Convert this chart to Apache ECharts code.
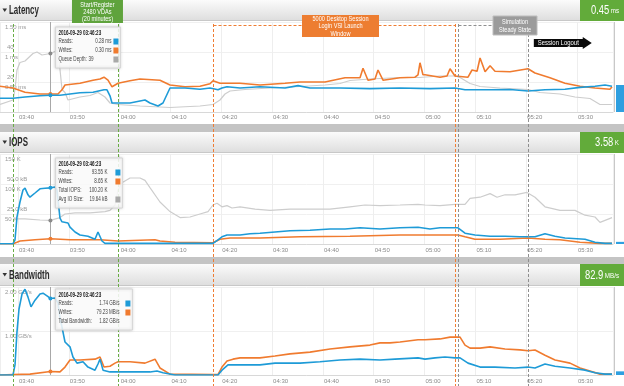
<!DOCTYPE html>
<html><head><meta charset="utf-8">
<script src="https://cdn.jsdelivr.net/npm/echarts@6/dist/echarts.min.js"></script>
<style>html,body{margin:0;padding:0;background:#fff}#c{width:624px;height:386px}</style>
</head><body><div id="c"></div>
<script>
// ---------- DATA (time = minutes after 03:00) ----------
const panelTitles = ['Latency', 'IOPS', 'Bandwidth'];
const badgeNumbers = ['0.45', '3.58', '82.9'];
const badgeUnits = ['ms', 'K', 'MB/s'];
const currentValues = [0.45, 3.58, 0.0829]; // latest value, in each panel's primary axis unit

const latMsTicks = [[0.5, '0.50 ms'], [1, '1 ms'], [1.5, '1.50 ms']];
const latQueueTicks = [[20, '20'], [40, '40']];
const iopsTicks = [[50, '50 K'], [100, '100 K'], [150, '150 K']];
const iopsSizeTicks = [[25, '25.0 kB'], [50, '50.0 kB']];
const bwTicks = [[1, '1.00 GB/s'], [2, '2.00 GB/s']];

const crosshairTime = 46.38;
const crosshairLabel = '2016-09-29 03:46:23';
const latTip = [['Reads:', '0.28 ms', 0.28], ['Writes:', '0.30 ms', 0.30], ['Queue Depth:', '39', 39]];
const iopsTip = [['Reads:', '93.55 K', 93.55], ['Writes:', '8.65 K', 8.65], ['Total IOPS:', '100.20 K', null], ['Avg IO Size:', '19.64 kB', 19.64]];
const bwTip = [['Reads:', '1.74 GB/s', 1.74], ['Writes:', '79.23 MB/s', 0.0792], ['Total Bandwidth:', '1.82 GB/s', null]];

const phaseTimes = [[39.02, 59.68], [78.37, 125.99], [126.58, 140.35]];
const phaseLabels = ['Start/Register\n2480 VDAs\n(20 minutes)', '5000 Desktop Session\nLogin VSI Launch\nWindow', 'Simulation\nSteady State'];
const phaseLabelCenters = [55.64, 103.46, 137.8];
const logoutSpan = [141.5, 152.9];
const logoutLabel = 'Session Logout';

const latReads = [[36.46,0.23],[39.02,0.23],[41.38,0.25],[44.33,0.27],[46.38,0.28],[48.26,0.28],[50.23,0.30],[52.20,0.32],[54.76,0.33],[56.92,0.37],[57.51,0.37],[58.10,0.27],[58.50,0.15],[59.68,0.15],[62.04,0.15],[64.99,0.20],[65.97,0.15],[67.55,0.10],[68.53,0.15],[69.91,0.40],[72.86,0.40],[75.81,0.38],[77.78,0.40],[79.35,0.37],[80.14,0.40],[81.13,0.42],[83.69,0.40],[87.62,0.42],[92.54,0.40],[95.10,0.44],[97.46,0.40],[103.36,0.40],[109.26,0.39],[115.17,0.40],[121.07,0.39],[125.99,0.40],[127.96,0.37],[132.89,0.37],[136.81,0.375],[140.35,0.35],[143.70,0.37],[147.63,0.38],[150.59,0.41],[153.54,0.43],[155.51,0.45],[156.89,0.43]];
const latWrites = [[36.46,0.43],[39.02,0.40],[41.38,0.33],[44.33,0.30],[46.38,0.30],[47.87,0.30],[48.66,0.37],[49.25,0.45],[52.20,0.48],[54.76,0.53],[56.14,0.55],[56.92,0.58],[57.71,0.53],[58.50,0.42],[59.68,0.48],[62.04,0.52],[64.01,0.55],[67.94,0.53],[69.91,0.45],[72.86,0.42],[75.81,0.43],[77.78,0.47],[78.37,0.52],[79.75,0.48],[83.69,0.48],[87.62,0.45],[92.54,0.48],[95.49,0.50],[100.41,0.50],[104.35,0.57],[107.30,0.57],[107.89,0.73],[108.87,0.53],[110.25,0.55],[110.84,0.70],[111.82,0.53],[115.17,0.57],[118.12,0.58],[118.71,0.62],[119.10,0.82],[119.69,0.62],[120.09,0.62],[123.04,0.58],[124.42,0.60],[125.01,0.72],[125.99,0.60],[128.55,0.58],[129.34,0.70],[130.33,0.68],[130.92,0.90],[131.91,0.67],[132.89,0.77],[133.86,0.68],[136.81,0.67],[140.35,0.72],[141.73,0.65],[144.68,0.57],[147.63,0.48],[150.59,0.43],[153.54,0.40],[156.49,0.38],[156.89,0.42]];
const latQueue = [[36.46,5],[39.02,8],[39.41,15],[39.80,28],[40.39,33],[41.38,34],[42.95,39],[43.74,40],[44.72,38],[46.38,39],[47.67,41],[48.07,35],[48.66,15],[49.25,13],[49.84,8],[52.20,10],[54.17,11],[55.74,13],[57.12,10],[58.10,6],[59.68,5],[64.01,4],[69.91,3],[75.81,4],[78.37,5],[79.75,8],[80.73,12],[81.72,14],[84.67,15],[89.59,16],[95.49,17],[100.41,18],[103.36,19],[105.33,21],[109.26,22],[115.17,23],[118.91,23],[123.04,24],[125.99,24],[126.98,23],[128.95,19],[130.92,17],[134.85,16],[140.35,15],[142.72,13],[146.65,12],[149.60,10],[152.55,9],[154.52,5],[156.89,5]];

const iopsReads = [[36.46,0.5],[39.02,0.5],[39.41,7],[39.80,45],[40.39,70],[40.98,90],[41.38,93],[41.97,82],[42.36,78],[43.35,85],[44.33,92],[45.31,93],[46.38,93.55],[47.28,95],[47.67,90],[48.26,43],[48.66,37],[49.84,35],[50.23,28],[51.22,20],[52.20,15],[53.77,13],[55.15,8],[55.74,20],[56.53,5],[57.12,1],[78.37,1],[79.35,7],[80.14,12],[81.13,15],[83.69,15],[85.65,17],[87.62,18],[90.57,20],[93.52,22],[97.46,23],[101.39,25],[104.35,25],[107.30,27],[111.23,25],[115.17,27],[118.71,28],[121.07,25],[123.04,27],[126.58,27],[127.96,18],[129.93,15],[132.89,13],[135.83,13],[138.78,12],[141.73,12],[143.70,17],[145.67,13],[147.63,10],[151.57,8],[153.54,3],[155.51,1],[156.89,1]];
const iopsWrites = [[36.46,0.5],[39.02,0.5],[39.80,3],[40.39,5],[43.35,7],[46.38,8.65],[50.23,7],[56.14,7],[59.68,5],[66.96,7],[67.94,5],[70.89,3],[78.37,2],[79.75,8],[81.72,10],[87.62,10],[95.49,12],[105.33,13],[115.17,15],[126.58,15],[127.96,12],[129.93,8],[134.85,8],[140.35,10],[143.70,8],[146.65,7],[150.59,3],[154.52,1],[156.89,1]];
const iopsAvgSize = [[39.80,21],[41.38,21],[44.33,20],[46.38,19.64],[48.26,22],[49.25,25],[51.22,26],[54.17,26],[57.12,27],[58.10,28],[59.09,32.5],[59.68,45],[60.46,51],[62.04,55],[64.01,55],[64.99,53],[65.97,47],[67.94,35],[69.91,27],[71.88,22],[73.85,22.5],[75.81,25],[77.39,27],[78.37,32.5],[79.16,34],[80.14,31],[81.13,32],[82.11,30],[83.69,31],[86.64,29],[89.59,28],[93.52,29],[97.46,29],[101.39,29],[105.33,31],[108.28,32.5],[111.23,32],[115.17,32.5],[118.71,33],[120.09,32.5],[123.04,32],[125.99,33],[127.96,33],[128.95,38],[130.92,39],[132.89,42],[134.26,39],[135.83,41],[137.80,41],[140.16,43],[141.73,39],[143.70,31],[146.65,28],[149.60,28],[151.57,24],[153.54,22.5],[154.52,18],[156.89,22]];

const bwReads = [[36.46,0],[39.02,0],[39.41,0.23],[39.80,0.98],[40.20,1.50],[40.79,1.84],[41.38,1.95],[41.97,1.77],[42.56,1.55],[43.35,1.70],[44.33,1.84],[44.92,1.86],[45.71,1.80],[46.38,1.74],[47.28,1.75],[47.87,1.64],[48.26,1.30],[48.66,1.09],[49.25,0.75],[50.23,0.64],[50.82,0.41],[51.61,0.27],[52.79,0.30],[53.77,0.18],[55.15,0.11],[55.74,0.25],[56.14,0.36],[56.73,0.11],[58.10,0.07],[62.04,0.07],[65.97,0.07],[67.35,0.09],[68.53,0.05],[70.89,0],[79.35,0],[80.14,0.11],[81.32,0.23],[87.62,0.23],[90.57,0.27],[95.49,0.27],[99.43,0.30],[103.36,0.34],[107.30,0.36],[111.23,0.34],[114.18,0.36],[118.71,0.39],[120.09,0.36],[122.06,0.39],[124.02,0.41],[125.99,0.39],[126.98,0.39],[128.55,0.27],[130.92,0.18],[133.86,0.18],[137.80,0.16],[140.35,0.18],[141.73,0.16],[143.70,0.25],[145.67,0.20],[148.62,0.16],[151.57,0.11],[153.54,0.05],[155.51,0.02],[156.89,0.02]];
const bwWrites = [[36.46,0],[39.02,0.01],[42.36,0.02],[46.38,0.079],[48.26,0.07],[49.25,0.18],[50.23,0.34],[52.20,0.34],[55.15,0.36],[56.14,0.41],[56.92,0.18],[58.10,0.20],[59.09,0.27],[59.68,0.30],[62.04,0.30],[64.99,0.27],[66.96,0.36],[67.94,0.16],[69.91,0.02],[78.37,0.01],[79.35,0.01],[80.14,0.18],[81.13,0.32],[82.31,0.36],[83.69,0.39],[87.62,0.39],[90.57,0.43],[93.52,0.48],[97.46,0.52],[101.39,0.59],[105.33,0.64],[109.26,0.68],[111.23,0.73],[113.20,0.73],[115.17,0.75],[118.71,0.80],[120.09,0.80],[123.04,0.82],[125.01,0.86],[126.98,0.86],[127.96,0.68],[128.95,0.61],[130.92,0.61],[132.89,0.64],[135.83,0.59],[138.78,0.57],[140.35,0.55],[141.73,0.57],[143.70,0.45],[145.67,0.34],[148.62,0.27],[150.59,0.16],[152.55,0.09],[154.52,0.02],[156.89,0.02]];

// ---------- STYLE / LAYOUT ----------
const FF = "'Liberation Sans',Arial,sans-serif";
const BLUE = '#1e9bd7', ORANGE = '#f07b2f', GRAY = '#cdcdcd', GREEN = '#62ab3a';
const X_MIN = 36.46, X_MAX = 157.08;
const gridTops = [22, 154, 287], gridHeights = [90, 90, 88];
const headers = [[0, 21], [132, 21], [264, 22]];

function fmtTime(v) {
  const h = 3 + Math.floor(v / 60), m = Math.round(v % 60);
  return '0' + h + ':' + (m < 10 ? '0' : '') + m;
}
function tickFmt(ticks) {
  return v => { const t = ticks.find(k => Math.abs(k[0] - v) < 1e-6); return t ? t[1] : ''; };
}
const xAxes = [0, 1, 2].map(i => ({
  type: 'value', gridIndex: i, min: X_MIN, max: X_MAX, splitNumber: 12,
  axisLine: { show: true, lineStyle: { color: '#d8d8d8' } }, axisTick: { show: false },
  splitLine: { show: true, lineStyle: { color: '#eeeeee' } },
  axisLabel: { show: true, showMinLabel: false, showMaxLabel: false, formatter: fmtTime, align: 'left',
    fontSize: 6, color: '#8a8a8a', fontFamily: FF, margin: i === 0 ? 2 : 3, padding: [0, 0, 0, 1] }
}));
function yAxis(grid, max, interval, ticks, primary) {
  return {
    type: 'value', gridIndex: grid, min: 0, max: max, interval: interval, position: 'left',
    axisLine: { show: false }, axisTick: { show: false },
    splitLine: { show: primary, lineStyle: { color: '#f0f0f0' } },
    axisLabel: { inside: true, formatter: tickFmt(ticks), fontSize: 6, color: '#9a9a9a', fontFamily: FF,
      margin: primary ? 5 : 7, verticalAlign: primary ? 'top' : 'bottom',
      padding: primary ? [2, 0, 0, 0] : [0, 0, 2, 0], showMinLabel: false }
  };
}
const yAxes = [
  yAxis(0, 1.5, 0.5, latMsTicks, true), yAxis(0, 60, 20, latQueueTicks, false),
  yAxis(1, 150, 50, iopsTicks, true), yAxis(1, 75, 25, iopsSizeTicks, false),
  yAxis(2, 2, 1, bwTicks, true)
];
function line(data, color, width, xi, yi, tip, cross) {
  const s = { type: 'line', data: data, xAxisIndex: xi, yAxisIndex: yi, showSymbol: false, symbol: 'none',
    lineStyle: { color: color, width: width }, itemStyle: { color: color }, silent: true };
  if (tip != null) s.markPoint = { symbol: 'circle', symbolSize: 4, silent: true, label: { show: false },
    itemStyle: { color: color === GRAY ? '#8a8a8a' : color }, data: [{ coord: [crosshairTime, tip] }] };
  if (cross) s.markLine = { symbol: ['none', 'none'], silent: true, label: { show: false },
    lineStyle: { color: '#a8a8a8', width: 1, type: 'solid' }, data: [{ xAxis: crosshairTime }] };
  return s;
}
const series = [
  line(latQueue, GRAY, 1.2, 0, 1, latTip[2][2], true),
  line(latWrites, ORANGE, 1.6, 0, 0, latTip[1][2]),
  line(latReads, BLUE, 1.6, 0, 0, latTip[0][2]),
  line(iopsAvgSize, GRAY, 1.2, 1, 3, iopsTip[3][2], true),
  line(iopsWrites, ORANGE, 1.6, 1, 2, iopsTip[1][2]),
  line(iopsReads, BLUE, 1.6, 1, 2, iopsTip[0][2]),
  line(bwWrites, ORANGE, 1.6, 2, 4, bwTip[1][2], true),
  line(bwReads, BLUE, 1.6, 2, 4, bwTip[0][2])
];
const chart = echarts.init(document.getElementById('c'), null, { renderer: 'canvas' });
chart.setOption({
  animation: false, backgroundColor: '#ffffff',
  grid: gridTops.map((t, i) => ({ left: 0, right: 11, top: t, height: gridHeights[i] })),
  xAxis: xAxes, yAxis: yAxes, series: series
});

// ---------- DECORATION ----------
const px = t => chart.convertToPixel({ xAxisIndex: 0 }, t);
const G = [];
// text drawn condensed (scaleX) around its anchor point
const txt = (x, y, s, sx, o) => G.push({ type: 'text', z: 100, x: x, y: y, scaleX: sx, style: Object.assign({ x: 0, y: 0, text: s,
  fontFamily: FF, fontSize: 7, fill: '#333', align: 'left', verticalAlign: 'middle' }, o || {}) });
// panel frames
G.push({ type: 'rect', z: -10, shape: { x: 0, y: 124, width: 624, height: 8 }, style: { fill: '#c4c4c4' } });
G.push({ type: 'rect', z: -10, shape: { x: 0, y: 257, width: 624, height: 7 }, style: { fill: '#c4c4c4' } });
headers.forEach((h, i) => {
  G.push({ type: 'rect', z: -5, shape: { x: 0, y: h[0], width: 624, height: h[1] },
    style: { fill: new echarts.graphic.LinearGradient(0, 0, 0, 1, [{ offset: 0, color: '#fbfbfb' }, { offset: 1, color: '#dddddd' }]) } });
  G.push({ type: 'line', z: -4, shape: { x1: 0, y1: h[0] + h[1] - 0.5, x2: 624, y2: h[0] + h[1] - 0.5 }, style: { stroke: '#c8c8c8', lineWidth: 1 } });
  G.push({ type: 'polygon', z: 100, shape: { points: [[2.5, h[0] + h[1] / 2 - 2], [7, h[0] + h[1] / 2 - 2], [4.75, h[0] + h[1] / 2 + 1.5]] }, style: { fill: '#333' } });
  txt(9, h[0] + h[1] / 2 + 0.5, panelTitles[i], 0.66, { fontSize: 12, fontWeight: 'bold', fill: '#2b2b2b' });
  G.push({ type: 'rect', z: 90, shape: { x: 580, y: h[0], width: 44, height: h[1] }, style: { fill: GREEN } });
  txt(619, h[0] + h[1] / 2 + 0.5, '{a|' + badgeNumbers[i] + '} {b|' + badgeUnits[i] + '}', 0.78, { align: 'right',
    rich: { a: { fontSize: 12, fill: '#fff', fontFamily: FF }, b: { fontSize: 8, fill: '#fff', fontFamily: FF } } });
  // right border and current-value bar
  const top = gridTops[i], bot = gridTops[i] + gridHeights[i];
  G.push({ type: 'line', z: 5, shape: { x1: 614.5, y1: top, x2: 614.5, y2: bot }, style: { stroke: '#c8c8c8', lineWidth: 1 } });
  const yv = chart.convertToPixel({ yAxisIndex: [0, 2, 4][i] }, currentValues[i]);
  G.push({ type: 'rect', z: 5, shape: { x: 616, y: yv, width: 8, height: Math.max(bot - yv, 2) }, style: { fill: '#2e9fe0' } });
});
// phase dashed lines
const phaseColors = ['#6aad45', '#ef7d33', '#8f8f8f'];
phaseTimes.forEach((p, i) => {
  const x1 = Math.round(px(p[0])) + 0.5, x2 = Math.round(px(p[1])) + 0.5;
  const ds = { stroke: phaseColors[i], lineWidth: 1, lineDash: [3, 2] };
  G.push({ type: 'line', z: 80, shape: { x1: x1, y1: 24, x2: x1, y2: 386 }, style: ds });
  G.push({ type: 'line', z: 80, shape: { x1: x2, y1: 24, x2: x2, y2: 386 }, style: ds });
  if (i > 0) G.push({ type: 'line', z: 80, shape: { x1: x1, y1: 25.5, x2: x2, y2: 25.5 }, style: ds });
});
const boxDims = [[51, 0, 23], [77, 15, 22], [44, 16, 19]];
const boxFill = ['#5fa33c', '#ed7d31', '#9b9b9b'];
phaseLabels.forEach((s, i) => {
  const cx = px(phaseLabelCenters[i]), d = boxDims[i];
  G.push({ type: 'rect', z: 95, shape: { x: cx - d[0] / 2, y: d[1], width: d[0], height: d[2] },
    style: { fill: boxFill[i], stroke: i === 2 ? '#bdbdbd' : null, lineWidth: 1 } });
  txt(cx, d[1] + d[2] / 2 + 0.5, s, 0.8, { align: 'center', fill: '#fff', fontSize: 7, lineHeight: 7.2 });
});
// session logout arrow
{
  const a = px(logoutSpan[0]), b = px(logoutSpan[1]);
  G.push({ type: 'polygon', z: 95, shape: { points: [[a, 39], [b - 9, 39], [b - 9, 37], [b, 43], [b - 9, 49], [b - 9, 47], [a, 47]] }, style: { fill: '#0a0a0a' } });
  txt((a + b - 9) / 2, 43.5, logoutLabel, 0.85, { align: 'center', fill: '#fff', fontSize: 7 });
}
// static tooltips
const cx = px(crosshairTime);
const tips = [
  { rows: latTip, top: 27, w: 65, valX: 56 },
  { rows: iopsTip, top: 158, w: 67, valX: 52 },
  { rows: bwTip, top: 289, w: 77, valX: 64 }
];
const tipColors = [[BLUE, ORANGE, '#a9a9a9'], [BLUE, ORANGE, null, '#a9a9a9'], [BLUE, ORANGE, null]];
const TS = 0.7;
tips.forEach((t, i) => {
  const x0 = cx + 5, h = 14 + t.rows.length * 9;
  G.push({ type: 'rect', z: 96, shape: { x: x0, y: t.top, width: t.w, height: h },
    style: { fill: 'rgba(255,255,255,0.86)', stroke: '#d6d6d6', lineWidth: 1, shadowBlur: 3, shadowColor: 'rgba(0,0,0,0.18)' } });
  txt(x0 + 3, t.top + 6, crosshairLabel, TS, { fontWeight: 'bold', fontSize: 6.5, fill: '#222' });
  t.rows.forEach((r, j) => {
    const y = t.top + 14.5 + j * 9;
    txt(x0 + 3, y, r[0], TS, { fontSize: 6.5, fill: '#444' });
    if (i === 0 && j === 2) txt(x0 + 33, y, r[1], TS, { fontSize: 6.5, fill: '#444' });
    else txt(x0 + t.valX, y, r[1], TS, { fontSize: 6.5, fill: '#444', align: 'right' });
    const c = tipColors[i][j];
    if (c) G.push({ type: 'rect', z: 97, shape: { x: x0 + t.w - 7, y: y - 3, width: 5, height: 6 }, style: { fill: c } });
  });
});
chart.setOption({ graphic: { elements: G } });
</script></body></html>
